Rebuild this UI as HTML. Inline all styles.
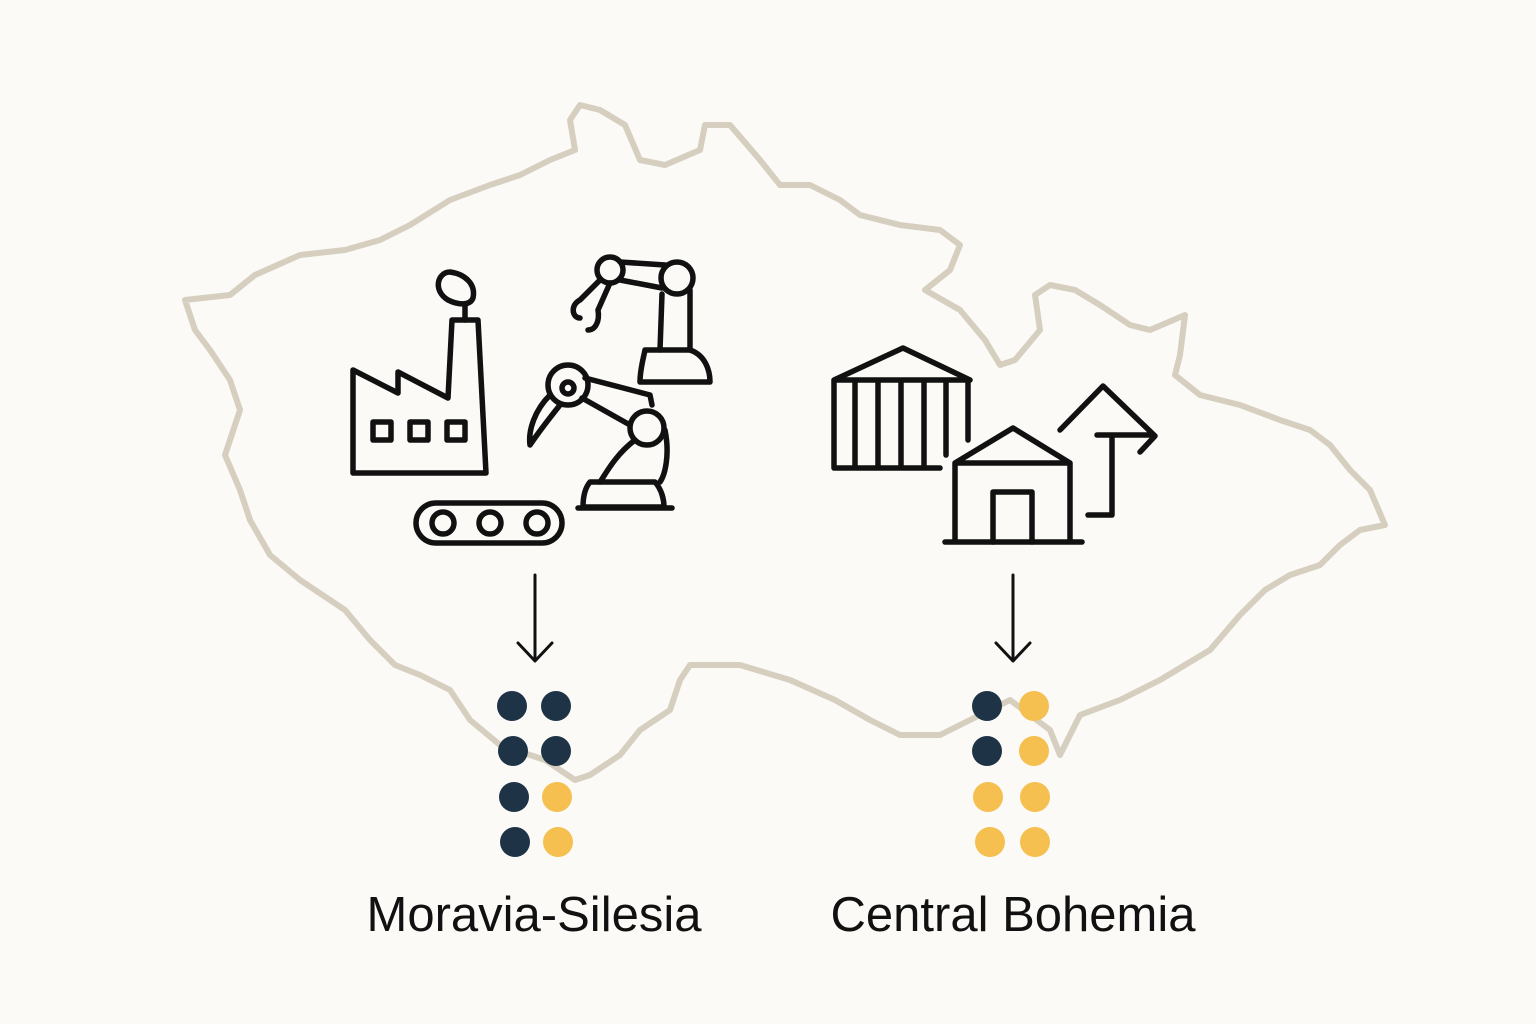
<!DOCTYPE html>
<html><head><meta charset="utf-8"><style>
html,body{margin:0;padding:0;background:#fbfaf7;}
svg{display:block}
</style></head><body>
<svg width="1536" height="1024" viewBox="0 0 1536 1024" xmlns="http://www.w3.org/2000/svg">
<rect width="1536" height="1024" fill="#fbfaf7"/>
<polygon fill="none" stroke="#d6cfbf" stroke-width="6" stroke-linejoin="round"
points="185,300 230,295 255,275 300,255 345,250 380,240 410,225 450,200 490,185 520,175 550,160 575,150 570,120 580,105 600,110 625,125 640,160 665,165 700,150 705,125 730,125 760,160 780,185 810,185 840,200 860,215 900,225 940,230 960,245 950,270 925,290 960,310 985,340 1000,365 1015,360 1040,330 1035,295 1050,285 1075,290 1100,305 1130,325 1150,330 1185,315 1180,355 1175,375 1200,395 1240,405 1280,420 1310,430 1330,445 1350,470 1370,490 1385,525 1360,530 1340,545 1320,565 1290,575 1265,590 1240,615 1210,650 1185,665 1160,680 1120,700 1080,715 1060,755 1050,730 1010,700 970,720 940,735 900,735 870,720 835,700 790,680 740,665 690,665 680,680 670,710 640,730 620,755 590,775 575,780 545,760 500,745 470,720 450,690 420,675 395,665 370,640 345,610 300,580 270,555 250,520 240,490 225,455 240,410 230,380 210,350 195,330"/>
<g fill="none" stroke="#111" stroke-width="5.5" stroke-linejoin="round" stroke-linecap="round">
<path d="M353,473 L353,370 L398,393 L398,372 L448,398 L452,320 L478,320 L486,473 Z"/>
<path d="M465,320 L465,305 M448,300 C432,290 438,272 450,272 C465,274 476,284 473,298 C470,306 458,305 448,300 Z"/>
<rect x="373" y="422" width="18" height="18"/><rect x="410" y="422" width="18" height="18"/><rect x="447" y="422" width="18" height="18"/>
<rect x="416" y="503" width="146" height="40" rx="20"/>
<circle cx="443" cy="523" r="11"/><circle cx="490" cy="523" r="11"/><circle cx="537" cy="523" r="11"/>
<circle cx="610" cy="270" r="13"/><circle cx="677" cy="278" r="16"/>
<path d="M620,262 L665,265 M620,280 L662,288"/>
<path d="M662,294 L660,350 M690,290 L690,350"/>
<path d="M645,350 L690,350 C705,355 710,370 710,382 L640,382 C640,370 643,360 645,350 Z"/>
<path d="M600,280 L580,300 M610,283 L598,310 M580,300 C570,305 572,318 580,318 M598,310 C600,322 595,330 588,330"/>
<circle cx="568" cy="385" r="20"/><circle cx="568" cy="388" r="6"/>
<circle cx="647" cy="428" r="17"/>
<path d="M585,378 L650,395 L652,405 M582,398 L630,425"/>
<path d="M550,395 C535,410 528,430 530,445 C540,430 548,420 560,405"/>
<path d="M635,440 C615,455 605,475 600,482 M665,430 C670,455 665,475 660,482"/>
<path d="M590,482 L655,482 C662,490 664,500 664,507 L583,507 C583,497 585,488 590,482 Z"/>
<path d="M578,508 L672,508"/>
<path d="M834,380 L903,348 L970,380 M834,380 L970,380 M834,380 L834,468 L940,468 M968,380 L968,440"/>
<path d="M855,382 L855,466 M878,382 L878,466 M901,382 L901,466 M924,382 L924,466 M946,382 L946,455"/>
<path d="M955,463 L1013,428 L1070,463 Z M955,463 L955,542 M1070,463 L1070,542 M945,542 L1082,542"/>
<path d="M993,542 L993,492 L1032,492 L1032,542"/>
<path d="M1060,430 L1103,386 L1155,436 L1140,452 M1097,435 L1152,435 M1112,437 L1112,515 L1088,515"/>
<path d="M535,575 L535,660 M518,643 L535,661 L552,643" stroke-width="3"/>
<path d="M1013,575 L1013,660 M996,643 L1013,661 L1030,643" stroke-width="3"/>
</g>
<g>
<circle cx="512" cy="706" r="15" fill="#1f3347"/><circle cx="556" cy="706" r="15" fill="#1f3347"/>
<circle cx="513" cy="751" r="15" fill="#1f3347"/><circle cx="556" cy="751" r="15" fill="#1f3347"/>
<circle cx="514" cy="797" r="15" fill="#1f3347"/><circle cx="557" cy="797" r="15" fill="#f5c04f"/>
<circle cx="515" cy="842" r="15" fill="#1f3347"/><circle cx="558" cy="842" r="15" fill="#f5c04f"/>
<circle cx="987" cy="706" r="15" fill="#1f3347"/><circle cx="1034" cy="706" r="15" fill="#f5c04f"/>
<circle cx="987" cy="751" r="15" fill="#1f3347"/><circle cx="1034" cy="751" r="15" fill="#f5c04f"/>
<circle cx="988" cy="797" r="15" fill="#f5c04f"/><circle cx="1035" cy="797" r="15" fill="#f5c04f"/>
<circle cx="990" cy="842" r="15" fill="#f5c04f"/><circle cx="1035" cy="842" r="15" fill="#f5c04f"/>
</g>
<g font-family="'Liberation Sans', sans-serif" font-size="49" fill="#111" text-anchor="middle">
<text x="534" y="931">Moravia-Silesia</text>
<text x="1013" y="931">Central Bohemia</text>
</g>
</svg>
</body></html>
